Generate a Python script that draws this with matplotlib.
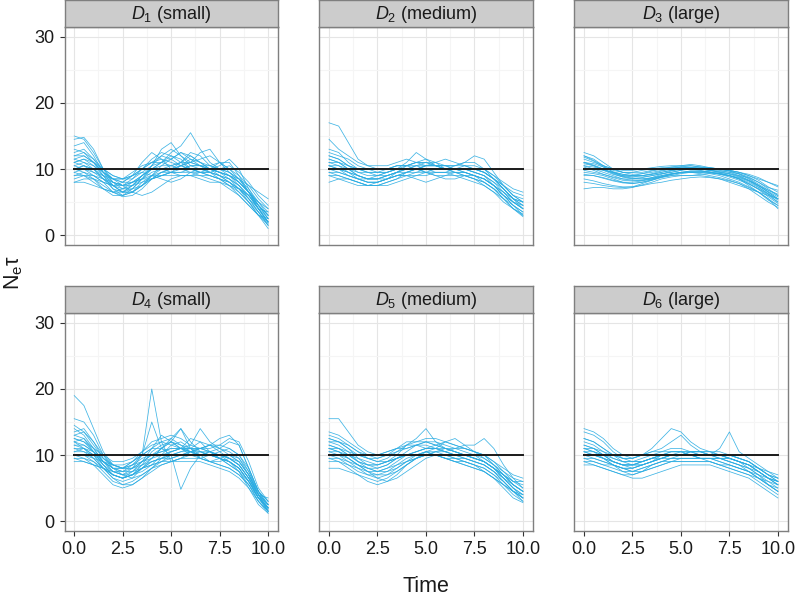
import matplotlib
matplotlib.use('Agg')
import matplotlib.pyplot as plt
import numpy as np

plt.rcParams['font.family'] = ['Liberation Sans', 'DejaVu Sans']
plt.rcParams['mathtext.fontset'] = 'custom'
plt.rcParams['mathtext.rm'] = 'Liberation Sans'
plt.rcParams['mathtext.it'] = 'Liberation Sans:italic'

# time grid (every 0.5)
time = [0.0, 0.5, 1.0, 1.5, 2.0, 2.5, 3.0, 3.5, 4.0, 4.5, 5.0,
        5.5, 6.0, 6.5, 7.0, 7.5, 8.0, 8.5, 9.0, 9.5, 10.0]
true_ne = 10

titles = ['$D_1$ (small)', '$D_2$ (medium)', '$D_3$ (large)',
          '$D_4$ (small)', '$D_5$ (medium)', '$D_6$ (large)']

d1 = [
    [15, 14.5, 12.5, 10, 8, 7.5, 8, 9, 10, 10.5, 10.5, 10, 9.5, 9.5, 9, 8.5, 8, 7, 5.5, 3.5, 1.5],
    [14.5, 14.8, 13, 10, 8.5, 8, 9, 11, 12.5, 11.5, 10, 11, 12, 11, 10, 9.5, 9, 8, 6.5, 4.5, 2.5],
    [11, 11.5, 10.5, 9, 7.5, 6.5, 7, 8.5, 10, 11, 12.5, 13.5, 15.5, 13, 11, 10, 9, 7.5, 5.5, 3.5, 1.5],
    [10, 10.5, 10, 8.5, 7, 6, 6.5, 8, 9, 9.5, 10, 10.5, 10, 9.5, 9, 8.5, 8, 7, 6, 4.5, 3],
    [9, 9.5, 9, 8, 6.5, 5.8, 6, 7, 8.5, 9.5, 9.5, 9, 9, 9.5, 9.5, 9, 8, 6.5, 5, 3, 1],
    [12, 12, 11, 9.5, 8.5, 8.5, 9.5, 10.5, 11, 12, 13, 12, 11, 11.5, 12, 11, 10, 9, 7.5, 5.5, 4],
    [8, 8.5, 8.5, 8, 7.5, 7, 7.5, 8.5, 9, 8.5, 8, 8.5, 9.5, 10, 10, 9.5, 9, 8.5, 7.5, 6.5, 5.5],
    [11.5, 12, 11, 9, 7, 6.5, 7.5, 9, 10.5, 13, 14, 12, 10.5, 10, 10, 9.5, 8.5, 7.5, 6, 4, 2],
    [10.5, 10, 9, 8, 7.5, 8, 9, 9.5, 9, 9, 9.5, 10.5, 11, 10.5, 10, 10.5, 11.5, 10, 7, 4.5, 2.5],
    [13, 12.5, 11, 9.5, 8.5, 8, 8, 8.5, 9.5, 10, 10.5, 11, 11, 10.5, 10, 9.5, 9, 8, 6.5, 4.5, 3],
    [9.5, 10, 9.5, 9, 8.5, 7.5, 6.5, 6, 6.5, 7.5, 8.5, 9, 9, 8.5, 8, 8, 7.5, 7, 6, 4, 2],
    [10, 9.5, 8.5, 7, 6, 6, 7, 8.5, 10.5, 12, 11.5, 10.5, 10, 10, 9.5, 9, 8.5, 7, 5, 3, 1.5],
    [11, 11.5, 11, 10, 9, 8.5, 9, 10, 11, 11.5, 11, 10.5, 11, 12.5, 13, 11, 9.5, 8, 6.5, 5, 3.5],
    [9.5, 9, 8, 7, 6.5, 7, 8, 8.5, 8.5, 9, 9.5, 9.5, 9.5, 9, 8.5, 8, 7, 6, 4.5, 3, 2],
    [12.5, 13, 11.5, 9.5, 8, 7, 7, 7.5, 8.5, 9.5, 10, 10, 10.5, 10.5, 9.5, 8.5, 7.5, 6.5, 5, 3.5, 2],
    [10.5, 11, 10.5, 9.5, 8.5, 8.5, 9, 10, 11.5, 12.5, 12, 11, 10, 9.5, 9.5, 10, 10.5, 9.5, 8, 6, 4.5],
    [8.5, 9, 9, 8.5, 7.5, 6.5, 6.5, 7.5, 8.5, 9, 9, 9, 9, 9, 9, 8.5, 7.5, 6, 4.5, 3, 2.5],
    [11.5, 11, 10, 8.5, 7.5, 7.5, 8.5, 10, 11, 11, 10.5, 11, 12.5, 12, 10.5, 10, 9.5, 8.5, 7, 5, 3],
    [13.5, 14, 12, 9.5, 7.5, 6.5, 6.5, 7.5, 9, 10.5, 11.5, 12.5, 12, 11, 10.5, 10, 9.5, 8.5, 6.5, 4, 1.8],
    [10, 10.5, 10, 9, 8, 7.5, 8, 9, 10, 11, 12, 11.5, 10, 9.5, 10, 11, 11, 9, 6.5, 4, 2],
    [9, 9, 8.5, 7.5, 6.5, 6, 6.5, 7.5, 9, 10, 10, 10.5, 11.5, 11, 10, 9, 8, 7, 5.5, 4, 3.5],
    [12, 12.5, 11.5, 10, 9, 8.5, 8.5, 9.5, 10.5, 11, 11.5, 12.5, 11.5, 10.5, 10.5, 11, 10, 8.5, 6.5, 4.5, 3],
    [11, 10.5, 9.5, 8.5, 8, 7.5, 7.5, 8, 8.5, 9, 9.5, 10, 10.5, 10.5, 10, 9.5, 9, 8, 6.5, 5, 4],
    [8, 8, 7.5, 7, 6.5, 6.5, 7.5, 9, 10, 10, 9.5, 9.5, 10, 10, 9.5, 9, 8.5, 7.5, 6, 4, 2.5],
]

d2 = [
    [17, 16.5, 14, 11.5, 10.5, 10, 10, 10.5, 10.5, 10, 10, 10, 10, 10, 10, 9.5, 9, 8, 7, 5.5, 4.5],
    [14.5, 13, 12, 11, 10.5, 10.5, 10.5, 11, 11.5, 11, 10.5, 10.5, 10.5, 10.5, 10.5, 10, 9.5, 8.5, 7.5, 6.5, 6],
    [11.5, 11, 10, 9, 8.5, 8.5, 9, 9.5, 10, 10.5, 10.5, 10.5, 10.5, 10.5, 11, 12, 11.5, 9.5, 7.5, 6, 5],
    [10.5, 10, 9, 8.5, 8, 8, 8.5, 9.5, 10.5, 11, 11, 10.5, 10, 10, 10, 9.5, 9, 7.5, 6, 4.5, 3.5],
    [9, 8.5, 8, 7.5, 7.5, 8, 8.5, 9, 9, 9, 9, 9.5, 9.5, 9.5, 9, 8.5, 7.5, 6.5, 5, 4, 3],
    [12, 11.5, 10.5, 9.5, 9, 9, 9.5, 10, 11, 12.5, 11.5, 10.5, 10, 10.5, 11, 11, 10, 8.5, 7, 5.5, 4.5],
    [10, 10, 9.5, 9, 8.5, 8.5, 8.5, 9, 9, 8.5, 8, 8.5, 9, 9.5, 9.5, 9, 8.5, 7.5, 6.5, 5.5, 5],
    [11, 11, 10.5, 10, 9.5, 9, 9, 9.5, 10, 10, 10.5, 11, 11.5, 11, 10.5, 10, 9.5, 8.5, 7, 5.5, 4],
    [8, 8.5, 8.5, 8, 7.5, 7.5, 8, 8.5, 9, 9.5, 9.5, 9.5, 9.5, 9, 8.5, 8, 7.5, 6.5, 5.5, 4.5, 3.5],
    [13, 12.5, 11, 10, 9.5, 9.5, 10, 10.5, 10.5, 10.5, 10, 10, 10, 10, 10.5, 10.5, 10, 9, 8, 7, 6.5],
    [10, 9.5, 9, 8.5, 8.5, 9, 9.5, 10, 10.5, 11, 11.5, 11, 10, 9.5, 9.5, 9, 8.5, 7.5, 6, 4.5, 3],
    [11.5, 11, 10, 9, 8.5, 8.5, 9, 9.5, 9.5, 9.5, 10, 10, 10, 10, 10, 9.5, 9, 8, 6.5, 5, 4],
    [9.5, 9.5, 9, 8.5, 8, 8, 8.5, 9, 9.5, 10, 10.5, 10.5, 10, 9.5, 9, 8.5, 8, 7, 5.5, 4, 2.8],
    [12.5, 12, 11.5, 10.5, 10, 9.5, 9.5, 10, 10, 10.5, 11, 10.5, 10, 10, 10, 10, 9.5, 8.5, 7.5, 6, 5.5],
    [10.5, 10.5, 10, 9.5, 9.5, 9.5, 9.5, 10, 10, 10, 9.5, 9, 8.5, 8.5, 9, 9, 8.5, 7.5, 6, 5, 4],
    [9, 9, 8.5, 8, 7.5, 7.5, 8, 8.5, 9.5, 10, 9.5, 9, 9, 9, 9, 8.5, 8, 7, 6, 5, 4.5],
    [10.5, 10, 9.5, 9, 8.5, 8.5, 9, 9.5, 10, 10, 10, 9.5, 9.5, 10, 10, 10, 9.5, 8.5, 7, 5.5, 5],
    [11, 10.5, 9.5, 8.5, 8, 8, 8.5, 9, 9.5, 10, 10.5, 10.5, 10.5, 10, 9.5, 9, 8.5, 7.5, 6.5, 5, 4],
    [12, 11.5, 10.5, 10, 10, 10, 10, 10.5, 10.5, 11, 11, 11, 10.5, 10, 10, 10, 10, 9, 7.5, 6, 5],
    [9.5, 9, 8.5, 8, 7.5, 7.5, 7.5, 8, 8.5, 9, 9.5, 10, 10, 10, 9.5, 9, 8, 7, 5.5, 4, 3.2],
]

d3 = [
    [12.5, 12, 11, 10, 9.5, 9.5, 9.5, 9.8, 10, 10.2, 10.3, 10.2, 10, 10, 10, 9.8, 9.5, 9, 8.5, 8, 7.5],
    [11.5, 11, 10.5, 10, 9.5, 9.2, 9.3, 9.5, 9.8, 10, 10.3, 10.5, 10.3, 10, 9.8, 9.5, 9, 8.3, 7.5, 6.5, 5.5],
    [10.5, 10, 9.5, 9, 8.5, 8.5, 8.7, 9, 9.3, 9.5, 9.8, 10, 10, 9.8, 9.5, 9.2, 8.8, 8.2, 7.3, 6.2, 5],
    [9.5, 9.3, 9, 8.5, 8, 7.8, 8, 8.3, 8.7, 9, 9.3, 9.5, 9.5, 9.3, 9, 8.5, 8, 7.3, 6.5, 5.5, 4.5],
    [8.5, 8.2, 7.8, 7.5, 7.3, 7.3, 7.5, 7.8, 8, 8.3, 8.5, 8.7, 8.8, 8.7, 8.5, 8.2, 7.8, 7.2, 6.5, 5.5, 4],
    [12, 11.5, 10.5, 9.5, 9, 9, 9.3, 9.7, 10, 10.3, 10.5, 10.7, 10.5, 10.2, 10, 9.8, 9.5, 9, 8.3, 7.3, 6.5],
    [10, 10, 9.8, 9.5, 9, 8.8, 8.8, 9, 9.3, 9.5, 9.8, 10.2, 10.3, 10.2, 10, 9.7, 9.2, 8.5, 7.5, 6.5, 5.5],
    [7, 7.2, 7.2, 7, 7, 7.2, 7.6, 8, 8.5, 8.8, 9, 9, 9, 8.8, 8.5, 8, 7.5, 7, 6.5, 6, 5.5],
    [11, 10.8, 10.3, 9.8, 9.5, 9.5, 9.8, 10, 10.2, 10.3, 10.3, 10.2, 10, 9.8, 9.5, 9.3, 9, 8.7, 8, 7, 6],
    [9, 9, 8.7, 8.3, 8, 8, 8.2, 8.5, 9, 9.3, 9.5, 9.5, 9.5, 9.5, 9.3, 9, 8.5, 7.8, 7, 6.2, 5.5],
    [10.8, 10.5, 10, 9.3, 8.8, 8.5, 8.5, 8.7, 9, 9.3, 9.5, 9.7, 9.7, 9.5, 9.2, 9, 8.7, 8.2, 7.5, 6.8, 6.2],
    [8, 7.8, 7.5, 7.3, 7.2, 7.3, 7.8, 8.3, 8.8, 9.2, 9.5, 9.5, 9.3, 9, 8.7, 8.3, 7.8, 7, 6, 5, 4.2],
    [12, 11.3, 10.5, 10, 9.8, 9.8, 10, 10.2, 10.4, 10.5, 10.5, 10.5, 10.3, 10.2, 10, 9.8, 9.5, 9.2, 8.7, 8, 7.3],
    [9.8, 9.5, 9.2, 8.8, 8.5, 8.3, 8.3, 8.5, 8.8, 9, 9, 9, 9.2, 9.3, 9.3, 9, 8.5, 7.5, 6.5, 5.3, 4.5],
    [11, 10.5, 9.8, 9.2, 8.8, 8.8, 9, 9.3, 9.7, 10, 10.3, 10.3, 10, 9.8, 9.7, 9.5, 9.3, 8.8, 8, 7.2, 6.8],
    [10.3, 9.8, 9.2, 8.7, 8.3, 8.2, 8.3, 8.7, 9.2, 9.7, 10, 10, 9.8, 9.5, 9.2, 8.8, 8.3, 7.7, 7, 6, 5],
    [11.8, 11.2, 10.3, 9.6, 9.2, 9, 9, 9.2, 9.5, 9.8, 10, 10, 10, 9.8, 9.6, 9.3, 8.9, 8.3, 7.5, 6.6, 5.8],
    [9.2, 9, 8.6, 8.2, 7.9, 7.8, 8, 8.4, 8.8, 9.2, 9.5, 9.7, 9.7, 9.6, 9.4, 9, 8.5, 7.8, 6.9, 5.8, 4.8],
    [10.5, 10.3, 9.9, 9.5, 9.2, 9, 9, 9.2, 9.5, 9.8, 10, 10.2, 10.2, 10.1, 9.9, 9.7, 9.3, 8.6, 7.7, 6.8, 6],
    [11, 10.6, 10, 9.4, 8.9, 8.6, 8.5, 8.6, 8.9, 9.2, 9.4, 9.6, 9.6, 9.5, 9.3, 9, 8.6, 8, 7.2, 6.3, 5.3],
]

d4 = [
    [19, 17.5, 14, 10.5, 8.5, 8, 8.5, 9.5, 10, 10.5, 11, 11, 10.5, 10, 10, 9.5, 9, 7.5, 5, 2.5, 1.2],
    [15.5, 15, 13, 10, 8, 7.5, 8.5, 10, 11, 12, 12.5, 11.5, 11, 12, 11.5, 10.5, 9.5, 8.5, 6.5, 3.5, 1.5],
    [12, 12.5, 11, 9, 7.5, 7, 8, 10, 20, 12, 9, 9.5, 10.5, 10.5, 10, 9.5, 9, 8, 6, 3.5, 2],
    [11, 10.5, 9.5, 8, 6.5, 6, 6.5, 8, 9.5, 11, 12, 11, 10, 10, 10.5, 11, 10, 9, 7, 4, 1.5],
    [13, 12.5, 10.5, 8.5, 7, 6.5, 7, 8, 9, 9.5, 10, 4.8, 8, 10, 10.5, 10, 9, 8, 6, 3.5, 2],
    [10, 10, 9, 7.5, 6, 5.5, 6, 7, 8, 8.5, 9, 9.5, 10, 10.5, 10.5, 10, 9.5, 8.5, 6.5, 4, 2.5],
    [14, 13, 11, 9, 8, 8, 9, 10.5, 11.5, 12, 11.5, 11, 11.5, 14, 12, 11, 12, 11.5, 8, 4.5, 3],
    [11.5, 11, 10, 8.5, 7.5, 7, 7, 7.5, 8.5, 10, 11.5, 12, 11, 10, 9, 9.5, 10, 9.5, 7.5, 4.5, 2.5],
    [9.5, 9, 8.5, 8, 7, 6.5, 7, 8, 8.5, 9, 9, 9, 9, 9, 8.5, 8, 7.5, 6.5, 5, 3, 1.5],
    [12.5, 12, 11, 10, 9, 9, 9.5, 10.5, 12, 12.5, 13, 12.5, 11.5, 11, 11.5, 12.5, 13, 11.5, 8, 4.5, 2],
    [10.5, 10.5, 10, 9, 8, 7, 6.5, 7, 8, 9, 9.5, 10, 10, 9.5, 9, 8.5, 8, 7, 5.5, 3, 1.5],
    [13.5, 14, 12, 9.5, 8, 8, 9, 10, 11, 11, 10.5, 11, 12.5, 12, 10.5, 9.5, 8.5, 7.5, 6, 4, 3.5],
    [11, 11, 10.5, 9.5, 8.5, 8, 8.5, 9, 10, 11, 12.5, 14, 12, 10.5, 10, 10, 9.5, 8.5, 6.5, 4, 2.5],
    [10, 9.5, 8.5, 7, 5.5, 5, 5.5, 6.5, 7.5, 8.5, 9, 9.5, 9.5, 9.5, 9, 8.5, 8, 7, 5.5, 3.5, 2],
    [12, 11.5, 10.5, 9, 8, 7.5, 7.5, 8, 8.5, 9, 10, 10.5, 10.5, 10, 10, 10, 10, 9, 7, 4, 1.8],
    [14.5, 13.5, 11.5, 9.5, 8.5, 8.5, 9, 10, 15, 11, 10, 10.5, 11, 11, 11, 11.5, 12.5, 12, 9, 5, 3],
    [9, 9, 8.5, 8, 7.5, 7.5, 8, 9, 9.5, 10, 10.5, 11, 11, 11, 10.5, 10, 9.5, 8.5, 6.5, 4, 2.5],
    [12.5, 12, 10.5, 8.5, 7, 6.5, 7, 8, 9, 9.5, 10, 10, 10.5, 11, 10.5, 9.5, 8.5, 7.5, 5.5, 3, 1.2],
    [12, 11, 9.5, 8, 7, 6.5, 7, 8.5, 10.5, 11.5, 12, 14, 11, 9.5, 10, 10.5, 11, 10, 7.5, 4, 1.5],
    [10.5, 11, 10, 8, 6.5, 5.5, 5.5, 6.5, 8, 9.5, 10.5, 11, 11, 10.5, 10, 9.5, 9, 8, 6, 3.5, 2],
    [13, 13.5, 12, 10, 8.5, 8, 8, 9, 11, 13, 12, 11, 10.5, 11, 11.5, 11.5, 11, 10, 8, 4.5, 2.5],
    [9.5, 9.5, 9, 8, 7, 6.5, 7.5, 9, 10, 10.5, 11, 11, 10.5, 10, 10, 9.5, 9, 8, 6, 3.5, 1.5],
    [11.5, 11.5, 10.5, 9, 7.5, 7, 7.5, 8.5, 9, 9.5, 9.5, 10, 10.5, 11, 11.5, 11, 10.5, 9.5, 7, 4, 2],
    [10, 10, 9.5, 9, 8.5, 8, 8, 8.5, 9.5, 11, 12, 11.5, 10.5, 9.5, 9, 9, 9.5, 9, 7, 4.5, 3],
]

d5 = [
    [15.5, 15.5, 13.5, 11.5, 10.5, 10, 10.5, 11, 11, 11.5, 12, 11.5, 11, 10.5, 10, 9.5, 9, 8, 7, 6, 5.5],
    [13.5, 13, 12, 11, 10, 9.5, 10, 11, 12, 12, 12.5, 12.5, 12, 11.5, 11, 10.5, 10, 9, 8, 7, 6.5],
    [12, 11.5, 10.5, 9, 8.5, 8.5, 9, 10, 11.5, 12.5, 14, 12, 11, 11, 11, 10.5, 10, 8.5, 7, 5.5, 4.5],
    [11, 10.5, 9.5, 8.5, 8, 8, 8.5, 9.5, 10, 10.5, 11, 11, 10.5, 10, 9.5, 9, 8.5, 7.5, 6, 4.5, 3.5],
    [10, 9.5, 8.5, 7.5, 7, 7, 7.5, 8.5, 9.5, 10, 10.5, 10, 9.5, 9, 8.5, 8, 7.5, 6.5, 5.5, 4.5, 3.5],
    [8, 8, 7.5, 7, 6.5, 6, 6.5, 7.5, 8.5, 9.5, 10, 10, 9.5, 9, 8.5, 8, 7.5, 6.5, 5.5, 4.5, 4],
    [12.5, 12, 11, 10, 9.5, 9.5, 10, 10.5, 11, 11.5, 11.5, 11, 10.5, 11, 11.5, 11.5, 12.5, 11, 8.5, 6.5, 5],
    [9.5, 9.5, 9, 8.5, 7.5, 6.5, 6, 6.5, 7.5, 8.5, 9.5, 10, 10, 9.5, 9, 8.5, 8, 7, 6, 4.5, 3.5],
    [11.5, 11, 10, 9, 8.5, 8.5, 9, 9.5, 10, 10, 10, 10.5, 11, 10.5, 10, 9.5, 9, 8, 6.5, 5, 4],
    [13, 12.5, 11.5, 10.5, 10, 10, 10.5, 11, 11.5, 12, 12, 11.5, 11, 10.5, 10, 9.5, 9, 8, 7, 6, 6],
    [10.5, 10, 9, 8, 7, 6.5, 7, 8, 9, 10, 10.5, 10, 9.5, 9.5, 9.5, 9, 8.5, 7.5, 6, 4.5, 3],
    [12, 12, 11, 9.5, 8.5, 8, 8.5, 9.5, 10.5, 11.5, 12, 12, 11.5, 11, 10.5, 10, 9, 8, 7, 5.5, 4.5],
    [9, 9, 8.5, 8, 7.5, 7.5, 8, 8.5, 9, 9.5, 10, 10, 10, 9.5, 9, 8.5, 7.5, 6.5, 5, 3.5, 2.8],
    [11, 11, 10.5, 10, 9.5, 9, 9.5, 10.5, 11.5, 11.5, 11, 11, 12, 12.5, 11.5, 10.5, 9.5, 8.5, 7.5, 6.5, 6],
    [10, 10, 9.5, 8.5, 8, 7.5, 7.5, 8, 9, 9.5, 10, 10.5, 10.5, 10, 9.5, 9, 8.5, 7.5, 6.5, 5.5, 4.5],
    [11.5, 11, 10, 9, 8, 7.5, 8, 9, 10, 10.5, 11, 11, 10.5, 10, 10, 9.5, 9, 8, 6.5, 5, 4],
    [11, 10.5, 9.5, 8.5, 7.5, 7, 7, 7.5, 8.5, 9.5, 10.5, 11, 11, 10.5, 10, 9.5, 9, 8, 6.5, 5, 3.5],
    [12.5, 12, 11.5, 10.5, 9.5, 9, 9, 9.5, 10, 10.5, 11, 11.5, 12, 11.5, 11, 10.5, 10, 9, 7.5, 6, 5],
    [9.5, 9, 8, 7, 6, 5.5, 6, 7, 8.5, 9.5, 10, 10, 9.5, 9, 9, 8.5, 8, 7, 5.5, 4, 3],
    [10.5, 10.5, 10, 9.5, 9, 8.5, 9, 9.5, 10, 10, 10.5, 10.5, 10, 10, 10, 10, 9.5, 8.5, 7, 5.5, 4.5],
]

d6 = [
    [14, 13.5, 12.5, 11, 10, 9.5, 10, 11, 12.5, 14, 13.5, 12, 11, 10.5, 10, 9.5, 9, 8.5, 8, 7.5, 7],
    [12.5, 12, 11, 10, 9.5, 9.5, 10, 10.5, 11, 12, 13, 11.5, 10.5, 10.5, 10.5, 10, 9.5, 9, 8, 7, 6.5],
    [11.5, 11, 10, 9, 8.5, 8.5, 9, 9.5, 10, 10, 10, 10, 10, 10, 11, 13.5, 10.5, 9.5, 8.5, 7.5, 6.5],
    [10.5, 10, 9.5, 8.5, 8, 7.5, 8, 8.5, 9, 9.5, 9.5, 9.5, 9.5, 9.5, 9, 8.5, 8, 7.5, 6.5, 5.5, 4.5],
    [9.5, 9, 8.5, 8, 7.5, 7.5, 8, 8.5, 9, 9, 9, 9, 9, 9, 8.5, 8, 7.5, 7, 6, 5, 4],
    [11, 10.5, 10, 9, 8.5, 8.5, 8.5, 9, 9.5, 10, 10, 10, 10, 10, 10, 9.5, 9, 8.5, 7.5, 6.5, 5.5],
    [8.5, 8.5, 8, 7.5, 7, 6.5, 6.5, 7, 7.5, 8, 8.5, 8.5, 8.5, 8.5, 8, 7.5, 7, 6.5, 5.5, 4.5, 3.5],
    [12, 11.5, 10.5, 9.5, 9, 9, 9.5, 10, 10.5, 10.5, 10.5, 10.5, 10.5, 10, 10, 10, 9.5, 9, 8, 7, 6],
    [10, 10, 9.5, 9, 8.5, 8.5, 9, 9.5, 9.5, 9.5, 9.5, 9.5, 9.5, 9.5, 9.5, 9, 8.5, 8, 7.5, 6.5, 6],
    [11, 10.5, 9.5, 8.5, 7.5, 7, 7.5, 8.5, 9, 9.5, 10, 10.5, 10.5, 10, 9.5, 9, 8.5, 8, 7, 6, 5],
    [9, 9, 8.5, 8.5, 8, 8, 8.5, 9, 9.5, 10, 10, 10, 9.5, 9, 8.5, 8, 7.5, 7, 6.5, 6, 5.5],
    [13.5, 13, 12, 10.5, 9.5, 9.5, 10, 10.5, 10.5, 11, 11, 10.5, 10, 10, 10, 9.5, 9, 8.5, 7.5, 6.5, 6],
    [10, 9.5, 9, 8.5, 8, 8, 8.5, 9, 9.5, 10, 10, 10.5, 10.5, 10, 10, 9.5, 9, 8, 7, 5.5, 4.5],
    [11.5, 11, 10, 9, 8.5, 8, 8.5, 9, 10, 10.5, 10.5, 10, 9.5, 9.5, 9.5, 9.5, 9, 8.5, 7.5, 6.5, 5.5],
    [9.5, 9.5, 9, 8.5, 8, 7.5, 7.5, 8, 8.5, 9, 9.5, 9.5, 9.5, 9.5, 9, 8.5, 8, 7.5, 7, 6.5, 6],
    [10.5, 10.5, 10, 9.5, 9, 9, 9, 9.5, 10, 10, 10.5, 10.5, 10, 10, 10, 10, 9.5, 9, 8, 7, 6],
    [10.5, 10, 9.5, 9, 8.5, 8.5, 9, 9.5, 10, 10.5, 10.5, 10, 9.5, 9.5, 9.5, 9, 8.5, 7.5, 6.5, 5.5, 4.5],
    [12.5, 12, 11, 10, 9, 8.5, 8.5, 9, 9.5, 10, 10, 10.5, 10.5, 10.5, 10, 10, 9.5, 9, 8, 7, 6.5],
    [9, 8.5, 8, 7.5, 7, 7, 7.5, 8, 8.5, 9, 9, 9, 9, 9, 8.5, 8.5, 8, 7.5, 6.5, 5.5, 5],
    [11, 11, 10.5, 10, 9.5, 9, 9, 9.5, 10, 10, 10, 10, 10, 10, 9.5, 9.5, 9, 8.5, 7.5, 6.5, 5.5],
]

panels = [d1, d2, d3, d4, d5, d6]

W, H = 795, 596
fig = plt.figure(figsize=(W / 100, H / 100), dpi=100)

col_left = [64.5, 319.3, 574.3]
panel_w = 213.3
row_top = [27, 313]
panel_h = 218
strip_h = 27

line_col = '#2aace2'
border_col = '#7f7f7f'

for i, curves in enumerate(panels):
    r, c = divmod(i, 3)
    x0 = col_left[c] / W
    y0 = 1 - (row_top[r] + panel_h) / H
    ax = fig.add_axes([x0, y0, panel_w / W, panel_h / H])
    ax.set_xlim(-0.5, 10.5)
    ax.set_ylim(-1.5, 31.5)
    ax.set_xticks([0, 2.5, 5, 7.5, 10])
    ax.set_xticks([1.25, 3.75, 6.25, 8.75], minor=True)
    ax.set_yticks([0, 10, 20, 30])
    ax.set_yticks([5, 15, 25], minor=True)
    ax.grid(which='major', color='#e5e5e5', lw=0.8)
    ax.grid(which='minor', color='#f5f5f5', lw=0.8)
    ax.set_axisbelow(True)
    for s in ax.spines.values():
        s.set_color(border_col)
        s.set_linewidth(1.0)

    for ys in curves:
        ax.plot(time, ys, color=line_col, lw=0.55, alpha=0.9)
    ax.plot([time[0], time[-1]], [true_ne, true_ne], color='#1a1a1a', lw=1.4)

    ax.tick_params(which='minor', length=0)
    ax.tick_params(which='major', length=3.6, width=0.8, color='#333333',
                   labelsize=13, labelcolor='#1a1a1a', pad=3.5)
    ax.set_xticklabels(['0.0', '2.5', '5.0', '7.5', '10.0'])
    if r == 0:
        ax.tick_params(axis='x', bottom=False, labelbottom=False)
    if c != 0:
        ax.tick_params(axis='y', left=False, labelleft=False)

    # facet strip
    sy0 = 1 - (row_top[r]) / H
    sax = fig.add_axes([x0, sy0, panel_w / W, strip_h / H])
    sax.set_facecolor('#cccccc')
    sax.set_xticks([])
    sax.set_yticks([])
    for s in sax.spines.values():
        s.set_color(border_col)
        s.set_linewidth(1.0)
    sax.text(0.5, 0.45, titles[i], ha='center', va='center', fontsize=13,
             color='#1a1a1a', transform=sax.transAxes)

fig.text(426 / W, 1 - 586 / H, 'Time', ha='center', va='center', fontsize=15.5,
         color='#1a1a1a')
fig.text(14 / W, 1 - 272 / H, r'$\mathregular{N_e\tau}$', ha='center', va='center',
         rotation=90, fontsize=15.5, color='#1a1a1a')

fig.savefig('out.png', dpi=100)
